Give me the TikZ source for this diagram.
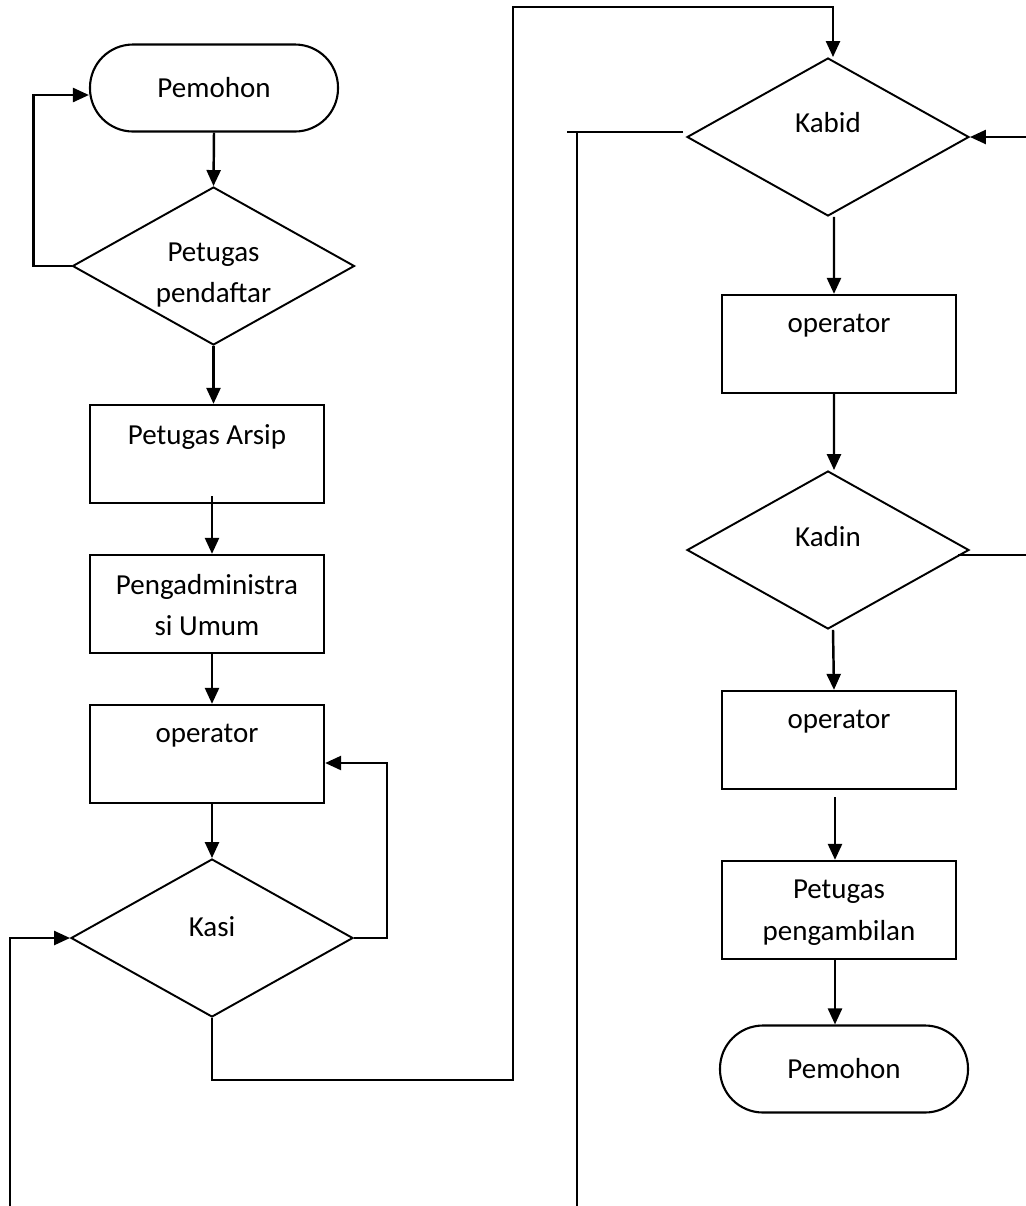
\documentclass[tikz,border=0pt]{standalone}
\usepackage{fontspec}
\setmainfont{Carlito}
\usetikzlibrary{arrows.meta, shapes.geometric}

\begin{document}
\begin{tikzpicture}[>={Triangle[length=0.32cm, width=0.28cm]},
    font=\fontsize{16.5}{23.5}\selectfont, line width=1.4pt,
    kotak/.style={draw, rectangle, line width=1.3pt, minimum width=4.68cm, minimum height=1.96cm, inner sep=0pt,
        label={[anchor=north, inner sep=0pt, yshift=-0.38cm, align=center]north:#1}},
    ujung/.style={draw, rectangle, line width=1.2pt, rounded corners=0.86cm, minimum width=4.96cm, minimum height=1.74cm},
    keputusan/.style={draw, diamond, inner sep=0pt, line width=1.1pt, minimum width=5.64cm, minimum height=3.16cm},
    alur/.style={->}]
    \useasboundingbox (0,0) rectangle (20.52,-24.12);

    % === Kolom kiri ===
    \node[ujung] (pemohonA) at (4.28,-1.76) {Pemohon};
    \node[keputusan, label={[yshift=-0.18cm, align=center]center:Petugas\\pendaftar}] (pendaftar) at (4.27,-5.32) {};
    \node[kotak=Petugas Arsip] (arsip) at (4.14,-9.08) {};
    \node[kotak={Pengadministra\\si Umum}] (admin) at (4.14,-12.08) {};
    \node[kotak=operator] (opA) at (4.14,-15.08) {};
    \node[keputusan, label={[yshift=0.22cm]center:Kasi}] (kasi) at (4.24,-18.76) {};

    % === Kolom kanan ===
    \node[keputusan, label={[yshift=0.28cm]center:Kabid}] (kabid) at (16.56,-2.74) {};
    \node[kotak=operator] (opB) at (16.78,-6.88) {};
    \node[keputusan, label={[yshift=0.26cm]center:Kadin}] (kadin) at (16.56,-11.0) {};
    \node[kotak=operator] (opC) at (16.78,-14.8) {};
    \node[kotak={Petugas\\pengambilan}] (ambil) at (16.78,-18.2) {};
    \node[ujung] (pemohonB) at (16.88,-21.38) {Pemohon};

    % ujung garis bebas
    \coordinate (bawahA) at (0.2,-24.12);
    \coordinate (belokA) at (10.26,-21.6);
    \coordinate (ujungB) at (11.34,-2.64);
    \coordinate (bawahB) at (11.54,-24.12);
    \coordinate (kananA) at (20.52,-2.74);
    \coordinate (kananB) at (20.52,-11.1);

    % Alur kiri
    \draw[alur] (pemohonA.south) -- (pendaftar.north);
    \draw[alur] (pendaftar.west) -- ++(-0.76,0) |- ([yshift=-0.14cm]pemohonA.west);
    \draw[alur] (pendaftar.south) -- (pendaftar.south |- arsip.north);
    \draw[alur] ([xshift=0.1cm,yshift=0.16cm]arsip.south) -- ([xshift=0.1cm]admin.north);
    \draw[alur] ([xshift=0.1cm]admin.south) -- ([xshift=0.1cm]opA.north);
    \draw[alur] (opA.south -| kasi.north) -- (kasi.north);
    \draw[alur] (kasi.east) -- ++(0.66,0) |- ([yshift=-0.18cm]opA.east);
    \draw[alur] (bawahA) |- (kasi.west);
    \draw[alur] (kasi.south) |- (belokA) |- ([xshift=0.1cm,yshift=1cm]kabid.north) -- ([xshift=0.1cm]kabid.north);

    % Alur kanan
    \draw[alur] (kananA) -- (kabid.east);
    \draw ([shift={(-0.06,0.1)}]kabid.west) -- (ujungB);
    \draw (bawahB) -- (bawahB |- ujungB);
    \draw[alur] ([xshift=0.12cm]kabid.south) -- ([xshift=-0.1cm]opB.north);
    \draw[alur] ([xshift=-0.1cm]opB.south) -- ([xshift=0.12cm]kadin.north);
    \draw ([shift={(-0.24,-0.1)}]kadin.east) -- (kananB);
    \draw[alur] ([xshift=0.1cm]kadin.south) -- ([xshift=-0.1cm]opC.north);
    \draw[alur] ([xshift=-0.08cm,yshift=-0.14cm]opC.south) -- ([xshift=-0.08cm]ambil.north);
    \draw[alur] ([xshift=-0.08cm]ambil.south) -- ([xshift=-0.08cm]ambil.south |- pemohonB.north);
\end{tikzpicture}
\end{document}
